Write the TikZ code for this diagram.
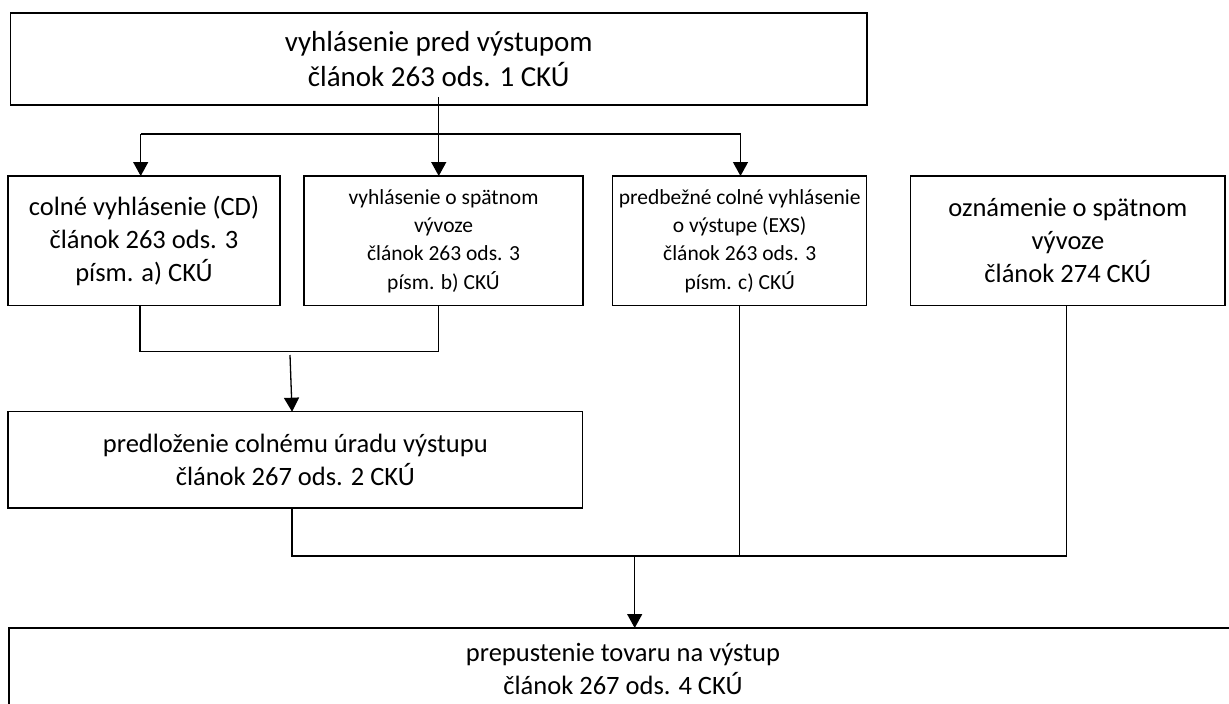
\documentclass[tikz,border=0pt]{standalone}
\usepackage{fontspec}
\setmainfont{Carlito}
\usetikzlibrary{arrows.meta,calc}
\tikzset{
  boxnode/.style={draw=black, line width=1.3pt, inner sep=0pt, outer sep=0pt, align=center, fill=white},
  big/.style={font=\fontsize{26.5}{33}\selectfont},
  small/.style={font=\fontsize{21.5}{28.3}\selectfont},
  huge/.style={font=\fontsize{29}{35.2}\selectfont},
  conn/.style={draw=black, line width=1.3pt},
  arr/.style={conn, -{Triangle[width=15pt,length=14pt]}}
}
\begin{document}
\begin{tikzpicture}[x=1pt,y=-1pt]
\useasboundingbox (0,0) rectangle (1229,704);
% nodes
\node[boxnode,huge,minimum width=856.5pt,minimum height=92pt] (top) at (438.75,59) {vyhlásenie pred výstupom\\článok 263 ods. 1 CKÚ};
\node[boxnode,big,minimum width=272pt,minimum height=129.7pt] (b1) at (144,240.85) {colné vyhlásenie (CD)\\článok 263 ods. 3\\písm. a) CKÚ};
\node[boxnode,small,minimum width=279pt,minimum height=129.7pt] (b2) at (443.5,240.85) {vyhlásenie o spätnom\\vývoze\\článok 263 ods. 3\\písm. b) CKÚ};
\node[boxnode,small,minimum width=254pt,minimum height=129.7pt] (b3) at (739.7,240.85) {predbežné colné vyhlásenie\\o výstupe (EXS)\\článok 263 ods. 3\\písm. c) CKÚ};
\node[boxnode,big,minimum width=314.3pt,minimum height=129.7pt] (b4) at (1067.85,240.85) {oznámenie o spätnom\\vývoze\\článok 274 CKÚ};
\node[boxnode,big,minimum width=574.7pt,minimum height=96.3pt] (b5) at (295.35,459.85) {predloženie colnému úradu výstupu\\článok 267 ods. 2 CKÚ};
\node[boxnode,big,minimum width=1228pt,minimum height=82pt] (b6) at (623,669) {prepustenie tovaru na výstup\\článok 267 ods. 4 CKÚ};
% junction coordinates
\coordinate (c1) at (140.7,134);
\coordinate (c2) at (438.75,134);
\coordinate (c3) at (740.5,134);
\coordinate (j1) at (140,351.7);
\coordinate (j2) at (438.7,351.7);
\coordinate (s5) at (290,355);
\coordinate (k1) at (292,556);
\coordinate (k2) at (634.7,556);
\coordinate (k3) at (739.5,556);
\coordinate (k4) at (1066.7,556);
% connectors
\draw[arr] ([yshift=8pt]top.south) -- (c2 |- b2.north);
\draw[conn] (c1) -- (c3);
\draw[arr] (c1) -- (c1 |- b1.north);
\draw[arr] (c3) -- (c3 |- b3.north);
\draw[conn] (j1 |- b1.south) -- (j1) -- (j2) -- (j2 |- b2.south);
\draw[arr] (s5) -- ([xshift=-3.3pt]b5.north);
\draw[conn] (k1 |- b5.south) -- (k1) -- (k4) -- (k4 |- b4.south);
\draw[conn] (k3 |- b3.south) -- (k3);
\draw[arr] (k2) -- (k2 |- b6.north);
\end{tikzpicture}
\end{document}
